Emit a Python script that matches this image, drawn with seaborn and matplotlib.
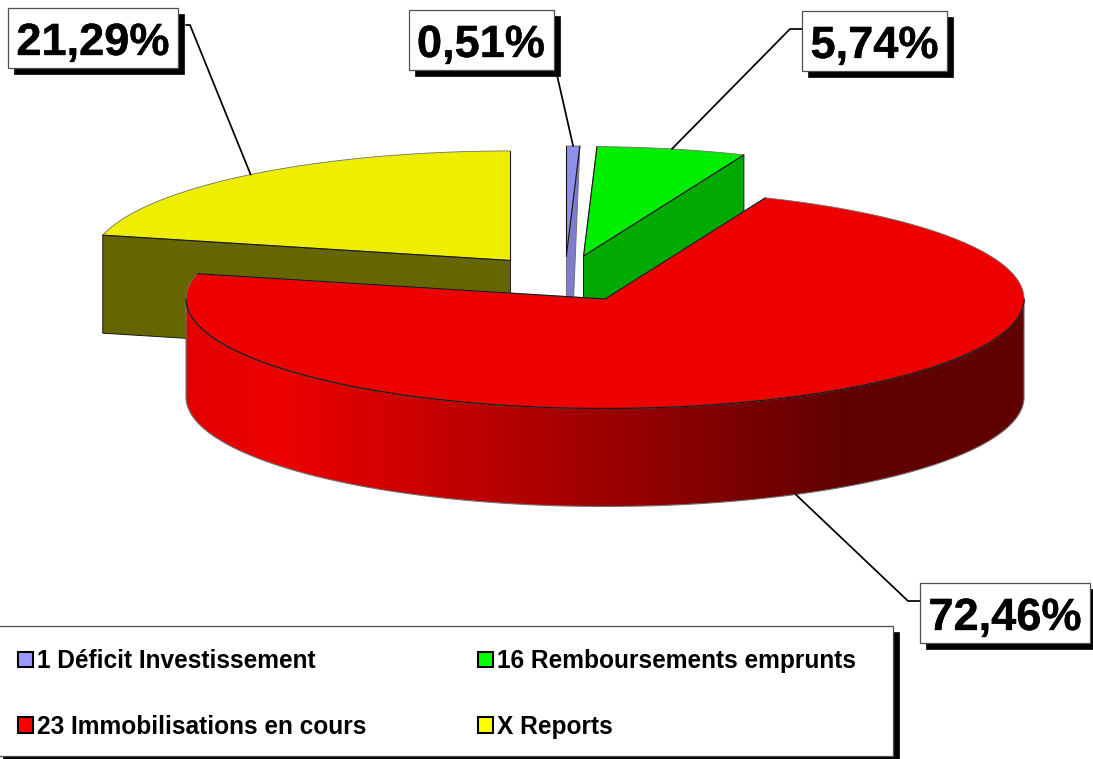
import numpy as np
import matplotlib
matplotlib.use("Agg")
import matplotlib.pyplot as plt
import matplotlib.patheffects as pe
import seaborn as sns
from matplotlib.colors import LinearSegmentedColormap
from matplotlib.patches import Polygon, Rectangle, Patch

# Data
categories = ["1 Déficit Investissement", "16 Remboursements emprunts",
              "23 Immobilisations en cours", "X Reports"]
values = [0.51, 5.74, 72.46, 21.29]
pct_labels = ["0,51%", "5,74%", "72,46%", "21,29%"]

top_colors = ["#8F8FEE", "#00EE00", "#EE0000", "#EEEE00"]
side_colors = ["#7D7DCF", "#00AA00", "#EE0000", "#666600"]
legend_colors = ["#9999FF", "#00FF00", "#FF0000", "#FFFF00"]

# label boxes: x, y, w, h in pixels
boxes = [(408.5, 10, 145, 60), (802, 11, 145, 60), (920, 583, 170, 60), (8, 8, 170, 60)]
elbows = [[(557, 75)], [(790, 29), (802, 29)], [(908, 601), (920, 601)], [(190, 25), (186, 25)]]

sns.set_theme(style="white")
plt.rcParams["font.family"] = ["Liberation Sans", "DejaVu Sans"]

fig = plt.figure(figsize=(10.93, 7.59), dpi=100)
ax = fig.add_axes([0, 0, 1, 1])

CX, CY = 565, 278.5
RX, RY = 419, 109.5
DEPTH = 98
EXPLODE = 0.21
GREY = "#707070"
DARK = "#181818"
bold_fx = [pe.withStroke(linewidth=0.25, foreground="black")]


def arc(apex, a1, a2, n=200):
    t = np.radians(np.linspace(a1, a2, n))
    return np.column_stack([apex[0] + RX * np.cos(t), apex[1] - RY * np.sin(t)])


def top_face(i, z, n=300):
    # top of a slice: grey rim, dark straight edges
    pts = np.vstack([[apexes[i]], arc(apexes[i], starts[i], ends[i], n)])
    ax.add_patch(Polygon(pts, facecolor=top_colors[i], edgecolor=GREY, linewidth=0.6, zorder=z))
    for p in (pts[1], pts[-1]):
        ax.plot([apexes[i][0], p[0]], [apexes[i][1], p[1]], color=DARK, lw=0.8, zorder=z)


def cut_face(i, outer, z):
    a = apexes[i]
    ax.add_patch(Polygon([a, outer, (outer[0], outer[1] + DEPTH), (a[0], a[1] + DEPTH)],
                         facecolor=side_colors[i], edgecolor=DARK, linewidth=0.7, zorder=z))


# Angles clockwise from 12 o'clock
fracs = np.array(values) / sum(values) * 360
starts = 90 - np.concatenate([[0], np.cumsum(fracs)[:-1]])
ends = starts - fracs
mids = (starts + ends) / 2
apexes = [(CX + EXPLODE * RX * np.cos(np.radians(m)),
           CY - EXPLODE * RY * np.sin(np.radians(m))) for m in mids]

# ---- deficit slice
a = apexes[0]
outer = arc(a, ends[0], ends[0], 1)[0]
ax.add_patch(Polygon([outer, a, (a[0], a[1] + DEPTH), (outer[0] - 8.5, a[1] + DEPTH)],
                     facecolor=side_colors[0], edgecolor=GREY, linewidth=0.7, zorder=2))
top_face(0, 3, 10)

# ---- green slice
cut_face(1, arc(apexes[1], ends[1], ends[1], 1)[0], 2)
top_face(1, 3)

# ---- yellow slice
cut_face(3, arc(apexes[3], starts[3], starts[3], 1)[0], 2)
top_face(3, 3)

# ---- red slice, wall with a horizontal gradient
a = apexes[2]
wall_top = arc(a, -180, 0)
wall_bottom = wall_top[::-1] + [0, DEPTH]
wall = Polygon(np.vstack([wall_top, wall_bottom]), facecolor="none", edgecolor=GREY,
               linewidth=0.8, zorder=5)
ax.add_patch(wall)
cmap = LinearSegmentedColormap.from_list("wall", [(0, "#E40000"), (0.116, "#EC0000"),
                                                  (0.792, "#600000"), (1, "#600000")])
grad = np.linspace(0, 1, 800).reshape(1, -1)
img = ax.imshow(grad, cmap=cmap, extent=(a[0] - RX, a[0] + RX, a[1] + RY + DEPTH, a[1]),
                aspect="auto", zorder=4)
img.set_clip_path(wall)
top_face(2, 6, 500)
front = arc(a, -180, 0)
ax.plot(front[:, 0], front[:, 1], color=DARK, lw=0.9, zorder=6)

# ---- leader lines from the middle of each slice
for i in range(4):
    p = arc(apexes[i], mids[i], mids[i], 1)[0]
    if i == 2:
        p = p + [0, DEPTH]
    pts = np.vstack([[p], elbows[i]])
    ax.plot(pts[:, 0], pts[:, 1], color="black", lw=1.25, zorder=7)

# ---- label boxes
SHADOW = 6
for (x, y, w, h), txt in zip(boxes, pct_labels):
    ax.add_patch(Rectangle((x + SHADOW, y + SHADOW), w, h, facecolor="black", edgecolor="black",
                           linewidth=0.5, zorder=8))
    ax.add_patch(Rectangle((x, y), w, h, facecolor="white", edgecolor="#505050",
                           linewidth=0.9, zorder=9))
    ax.text(x + w / 2, y + h / 2 + 1, txt, ha="center", va="center_baseline", fontsize=32.5,
            fontweight="bold", color="black", zorder=10, path_effects=bold_fx)

# ---- legend
ax.add_patch(Rectangle((-3 + SHADOW, 626 + SHADOW), 896, 130, facecolor="black", edgecolor="black",
                       linewidth=0.5, zorder=8))
ax.add_patch(Rectangle((-3, 626), 896, 130, facecolor="white", edgecolor="#505050",
                       linewidth=0.9, zorder=9))
handles = [Patch(facecolor=c, edgecolor="black", linewidth=1.5) for c in legend_colors]
# matplotlib fills columns first: deficit, 23 / 16, X
order = [0, 2, 1, 3]
leg = ax.legend([handles[i] for i in order], [categories[i] for i in order], ncols=2,
                loc="upper left", bbox_to_anchor=(18, 649), bbox_transform=ax.transData,
                frameon=False, borderpad=0, borderaxespad=0,
                prop={"weight": "bold", "size": 17.65}, handlelength=0.6, handleheight=0.58,
                handletextpad=0.16, columnspacing=4.58, labelspacing=1.7, labelcolor="black")
leg.set_zorder(10)

ax.set_xlim(0, 1093)
ax.set_ylim(759, 0)
ax.axis("off")

plt.savefig("out.png", dpi=100)
plt.close()
